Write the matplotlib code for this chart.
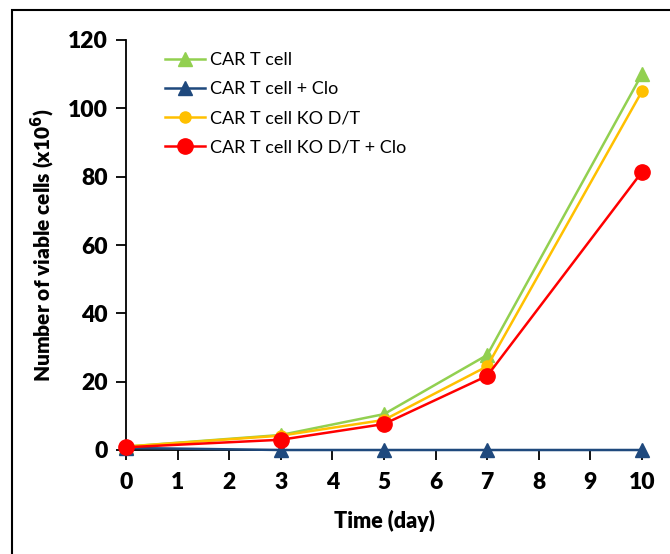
import matplotlib
matplotlib.use("Agg")
import matplotlib.pyplot as plt
from matplotlib.patches import Rectangle

days = [0, 3, 5, 7, 10]
car_t = [1.0, 4.4, 10.5, 27.8, 110.0]
car_t_clo = [0.6, 0.0, 0.0, 0.0, 0.0]
car_t_ko = [1.0, 4.2, 8.8, 24.5, 105.0]
car_t_ko_clo = [0.8, 3.0, 7.6, 21.7, 81.4]
labels = ["CAR T cell", "CAR T cell + Clo", "CAR T cell KO D/T", "CAR T cell KO D/T + Clo"]
xticks = list(range(0, 11))
yticks = [0, 20, 40, 60, 80, 100, 120]

plt.rcParams['font.family'] = ['Lato', 'DejaVu Sans']

fig = plt.figure(figsize=(6.7, 5.54), dpi=100)
ax = fig.add_axes([126/670, 1-450/554, (642-126)/670, (450-40)/554])

ax.plot(days, car_t, color='#92D050', marker='^', markersize=10, lw=1.8, label=labels[0], clip_on=False, zorder=3)
ax.plot(days, car_t_clo, color='#1F497D', marker='^', markersize=10, lw=1.8, label=labels[1], clip_on=False, zorder=3)
ax.plot(days, car_t_ko, color='#FFC000', marker='o', markersize=8, lw=1.8, label=labels[2], clip_on=False, zorder=4)
ax.plot(days, car_t_ko_clo, color='#FF0000', marker='o', markersize=11, lw=1.8, label=labels[3], clip_on=False, zorder=5)

ax.set_xlim(0, 10)
ax.set_ylim(0, 120)
ax.set_xticks(xticks)
ax.set_yticks(yticks)
for s in ['top', 'right']:
    ax.spines[s].set_visible(False)
for s in ['left', 'bottom']:
    ax.spines[s].set_linewidth(1.3)
ax.tick_params(axis='both', direction='out', length=7, width=1.3, labelsize=16.5)
ax.tick_params(axis='x', pad=9)
ax.tick_params(axis='y', pad=6)
for lab in ax.get_xticklabels() + ax.get_yticklabels():
    lab.set_fontweight('heavy')

ax.set_xlabel('Time (day)', fontsize=15.5, fontweight='heavy', labelpad=12)
ax.set_ylabel('Number of viable cells (x10$^{\\mathbf{6}}$)', fontsize=15, fontweight='heavy', labelpad=8)

leg = ax.legend(loc='upper left', bbox_to_anchor=(0.045, 1.01), frameon=False, fontsize=13,
                handlelength=2.2, handletextpad=0.25, labelspacing=0.72)

fig.patches.append(Rectangle((12/670, -0.1), 1.2, 1 - 10/554 + 0.1, transform=fig.transFigure,
                             fill=False, edgecolor='black', linewidth=1.5))

fig.savefig('out.png', dpi=100)
